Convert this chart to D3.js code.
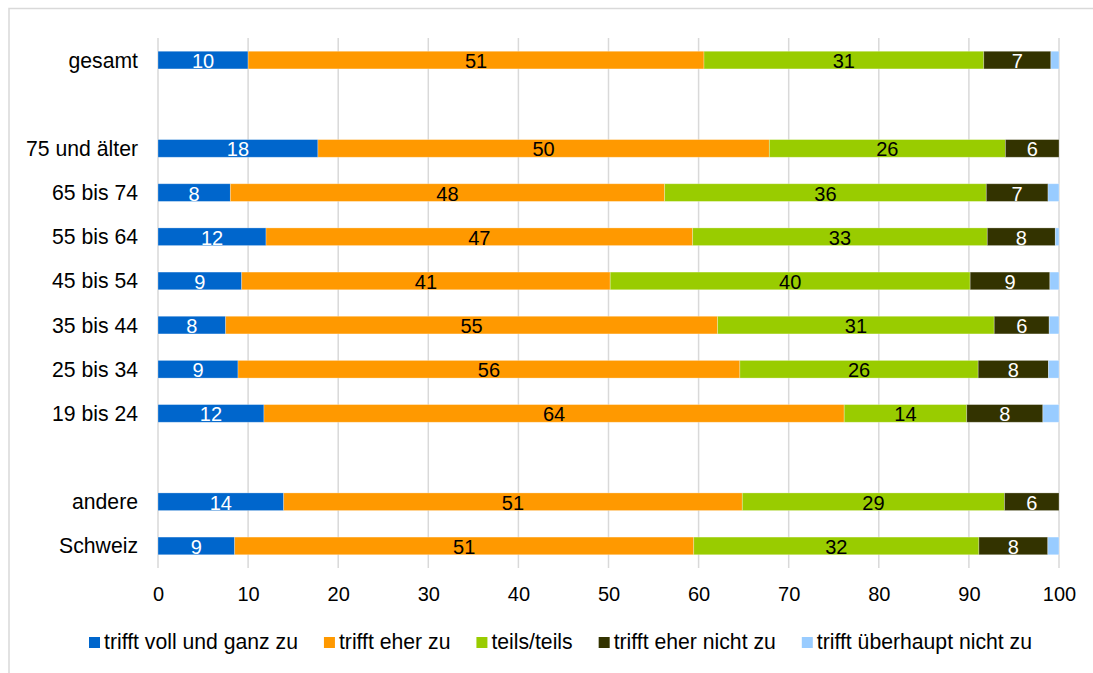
<!DOCTYPE html>
<html>
<head>
<meta charset="utf-8">
<script src="https://cdn.jsdelivr.net/npm/d3@7/dist/d3.min.js"></script>
<style>
  html, body { margin: 0; padding: 0; background: #fff; }
  svg { display: block; font-family: "Liberation Sans", Arial, sans-serif; }
</style>
</head>
<body>
<svg id="chart" width="1093" height="673"></svg>
<script>
// Categories from top to bottom; "_gap" entries are spacer rows between groups
const categories = ["gesamt", "_gap1", "75 und älter", "65 bis 74", "55 bis 64", "45 bis 54",
                    "35 bis 44", "25 bis 34", "19 bis 24", "_gap2", "andere", "Schweiz"];

// Shares in percent per category (null for spacer rows)
const volltZu      = [10.0, null, 17.75, 8.03, 11.99, 9.29, 7.51, 8.88, 11.76, null, 13.95, 8.51];
const eherZu       = [50.6, null, 50.1, 48.2, 47.35, 40.9, 54.6, 55.7, 64.4, null, 50.9, 50.95];
const teilsTeils   = [31.05, null, 26.2, 35.7, 32.7, 39.95, 30.7, 26.45, 13.6, null, 29.1, 31.65];
const eherNichtZu  = [7.45, null, 5.95, 6.85, 7.55, 8.85, 6.1, 7.8, 8.45, null, 6.05, 7.65];
const garNichtZu   = [0.9, null, 0.0, 1.22, 0.41, 1.01, 1.09, 1.17, 1.79, null, 0.0, 1.24];

const seriesNames = ["trifft voll und ganz zu", "trifft eher zu", "teils/teils",
                     "trifft eher nicht zu", "trifft überhaupt nicht zu"];
const seriesValues = [volltZu, eherZu, teilsTeils, eherNichtZu, garNichtZu];
const seriesColors = ["#0066CC", "#FF9900", "#99CC00", "#333300", "#99CCFF"];
const labelColors  = ["#ffffff", "#000000", "#000000", "#ffffff", null];

const xTicks = [0, 10, 20, 30, 40, 50, 60, 70, 80, 90, 100];

const svg = d3.select("#chart");

// Outer frame
svg.append("rect")
  .attr("x", 9).attr("y", 8.5)
  .attr("width", 1200).attr("height", 800)
  .attr("fill", "none").attr("stroke", "#d9d9d9").attr("stroke-width", 1.5);

const x = d3.scaleLinear().domain([0, 100]).range([158, 1059]);
const y = d3.scaleBand().domain(categories).range([38, 568])
  .paddingInner(0.6).paddingOuter(0.3);

// Vertical gridlines
svg.append("g").selectAll("line").data(xTicks).join("line")
  .attr("x1", d => x(d)).attr("x2", d => x(d))
  .attr("y1", 38).attr("y2", 568)
  .attr("stroke", "#d9d9d9").attr("stroke-width", 1.5);

// Build stacked rows
const rows = categories.map((c, i) => {
  const r = { cat: c };
  seriesNames.forEach((s, k) => r[s] = seriesValues[k][i]);
  return r;
}).filter(r => r[seriesNames[0]] !== null);

const stack = d3.stack().keys(seriesNames);
const stacked = stack(rows);

const gBars = svg.append("g");
stacked.forEach((layer, k) => {
  const g = gBars.append("g");
  g.selectAll("rect").data(layer).join("rect")
    .attr("x", d => x(d[0]))
    .attr("y", d => y(d.data.cat))
    .attr("width", d => Math.max(0, x(d[1]) - x(d[0])))
    .attr("height", y.bandwidth())
    .attr("fill", seriesColors[k])
    .attr("stroke", "#ffffff").attr("stroke-opacity", 0.35).attr("stroke-width", 0.8);

  if (labelColors[k]) {
    g.selectAll("text").data(layer).join("text")
      .attr("x", d => (x(d[0]) + x(d[1])) / 2)
      .attr("y", d => y(d.data.cat) + y.bandwidth() / 2 + 1)
      .attr("text-anchor", "middle")
      .attr("dominant-baseline", "central")
      .attr("font-size", 20)
      .attr("fill", labelColors[k])
      .text(d => Math.round(d[1] - d[0]));
  }
});

// Category labels
svg.append("g").selectAll("text")
  .data(categories.filter(c => !c.startsWith("_")))
  .join("text")
  .attr("x", 138)
  .attr("y", d => y(d) + y.bandwidth() / 2)
  .attr("text-anchor", "end")
  .attr("dominant-baseline", "central")
  .attr("font-size", 21.2)
  .attr("fill", "#000")
  .text(d => d);

// X axis tick labels
const xAxis = d3.axisBottom(x).tickValues(xTicks).tickSize(0).tickPadding(0);
const gx = svg.append("g").attr("transform", "translate(0,587)").call(xAxis);
gx.select(".domain").remove();
gx.selectAll("text")
  .attr("font-size", 20)
  .attr("font-family", "Liberation Sans, Arial, sans-serif")
  .attr("fill", "#000")
  .attr("dy", "0.71em");

// Legend
const legend = svg.append("g");
let lx = 89;
seriesNames.forEach((s, k) => {
  const item = legend.append("g");
  item.append("rect")
    .attr("x", lx).attr("y", 637)
    .attr("width", 11).attr("height", 11)
    .attr("fill", seriesColors[k]);
  const t = item.append("text")
    .attr("x", lx + 15).attr("y", 649)
    .attr("font-size", 21.2)
    .attr("fill", "#000")
    .text(s);
  lx += 15 + t.node().getComputedTextLength() + 26;
});
</script>
</body>
</html>
